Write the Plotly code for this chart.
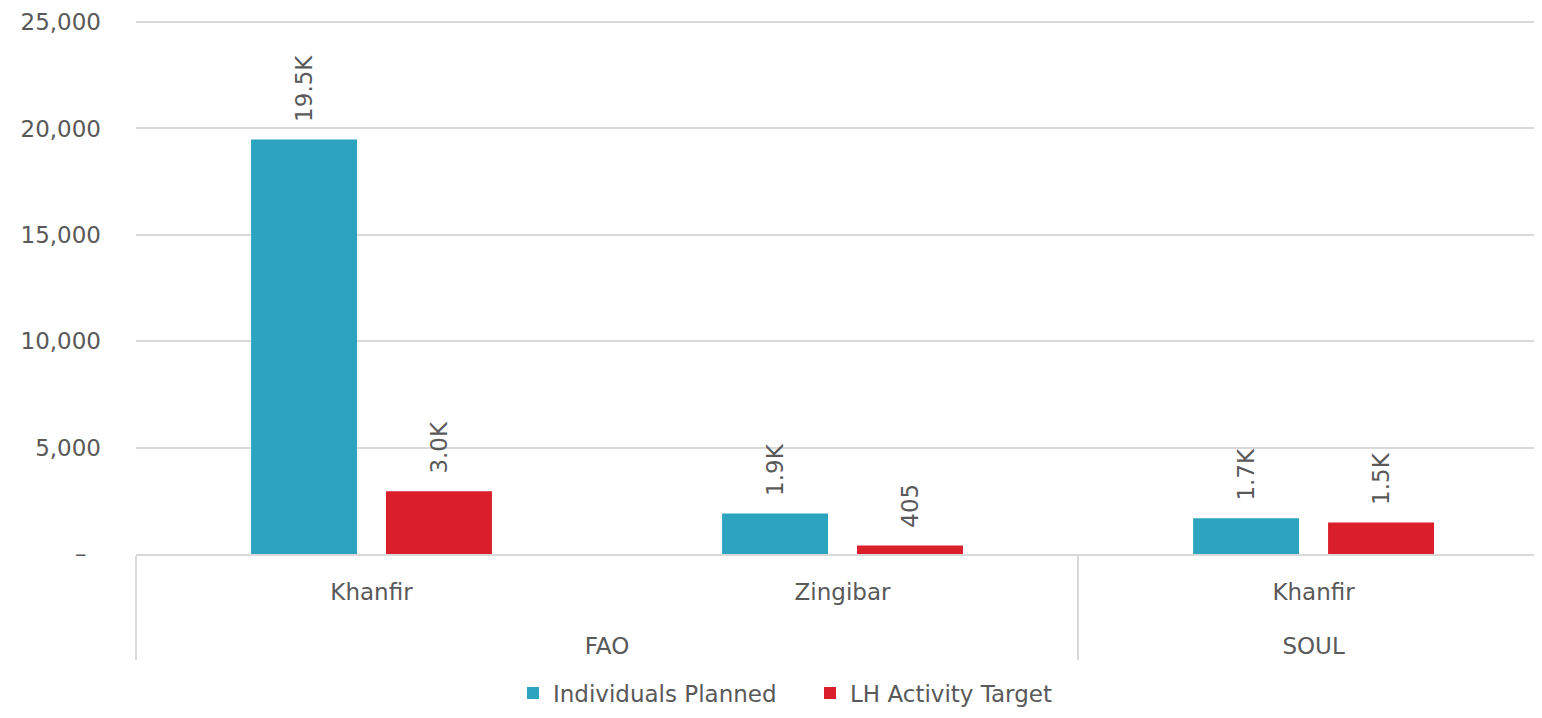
import plotly.graph_objects as go

# ---- data ----
organizations = ["FAO", "FAO", "SOUL"]
districts = ["Khanfir", "Zingibar", "Khanfir"]
individuals_planned = [19480, 1900, 1680]
lh_activity_target = [2950, 405, 1480]
series_names = ["Individuals Planned", "LH Activity Target"]
y_tick_values = [0, 5000, 10000, 15000, 20000, 25000]
y_tick_labels = ["–\u00a0\u00a0", "5,000", "10,000", "15,000", "20,000", "25,000"]

BLUE = "#2ca3bf"
RED = "#db1f2a"
TEXT = "#595959"
GRID = "#d9d9d9"
FONT = "DejaVu Sans"


def fmt(v):
    if v >= 1000:
        return "\u00a0\u00a0" + f"{v/1000:.1f}K"
    return "\u00a0\u00a0" + f"{v:,}"


def lab(s):
    return "<span style='font-size:23px'>" + s + "</span>"


x = [["<br>" + lab(o) for o in organizations], [lab(d) for d in districts]]

fig = go.Figure()
for name, vals, col in [(series_names[0], individuals_planned, BLUE),
                        (series_names[1], lh_activity_target, RED)]:
    fig.add_trace(go.Bar(
        name=name, x=x, y=vals, marker_color=col, marker_line_width=0,
        text=[fmt(v) for v in vals], textposition="outside", textangle=-90,
        textfont=dict(family=FONT, size=23, color=TEXT), cliponaxis=False,
    ))

fig.update_layout(
    width=1526, height=702,
    margin=dict(l=128, r=0, t=13, b=156, autoexpand=False),
    paper_bgcolor="white", plot_bgcolor="white",
    barmode="group", bargap=0.427, bargroupgap=0.215,
    font=dict(family=FONT, size=23, color=TEXT),
    showlegend=True,
    legend=dict(orientation="h", xref="container", x=505 / 1526, xanchor="left",
                yref="container", y=0.024, yanchor="middle",
                font=dict(family=FONT, size=23, color=TEXT),
                itemwidth=30, entrywidth=252, traceorder="normal"),
)
fig.update_yaxes(
    range=[0, 25050], tickvals=y_tick_values, ticktext=y_tick_labels,
    showgrid=True, gridcolor=GRID, gridwidth=1.5, zeroline=False,
    showline=False, ticks="", ticklabelstandoff=34, automargin=False,
    tickfont=dict(family=FONT, size=23, color=TEXT),
)
fig.update_xaxes(
    type="multicategory", range=[-0.5, 2.468], showline=True, linecolor=GRID, linewidth=2,
    showdividers=True, dividercolor=GRID, dividerwidth=1.5,
    ticklabelstandoff=10, automargin=False,
    tickfont=dict(family=FONT, size=28, color=TEXT), ticks="",
)

fig.write_html("out.html")
